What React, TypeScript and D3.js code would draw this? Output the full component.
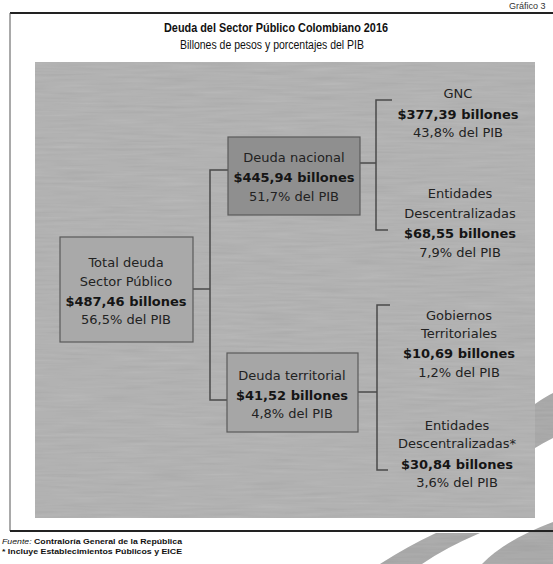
import React from "react";
import * as d3 from "d3";

const titleText = "Deuda del Sector Público Colombiano 2016";
const subtitleText = "Billones de pesos y porcentajes del PIB";
const chartNumber = "Gráfico 3";
const sourceLabel = "Fuente:";
const sourceText = "Contraloría General de la República";
const noteText = "* Incluye Establecimientos Públicos y EICE";

const nodeIds = ["total", "nacional", "territorial", "gnc", "entNac", "gobTer", "entTer"];
const nodeParents = ["", "total", "total", "nacional", "nacional", "territorial", "territorial"];
const nodeLabels = [
  ["Total deuda", "Sector Público"],
  ["Deuda nacional"],
  ["Deuda territorial"],
  ["GNC"],
  ["Entidades", "Descentralizadas"],
  ["Gobiernos", "Territoriales"],
  ["Entidades", "Descentralizadas*"],
];
const nodeValues = [487.46, 445.94, 41.52, 377.39, 68.55, 10.69, 30.84];
const nodePcts = [56.5, 51.7, 4.8, 43.8, 7.9, 1.2, 3.6];

// layout (not data)
const layout: Record<string, { cx: number; y0: number; box?: [number, number, number, number]; fill?: string; gaps: number[] }> = {
  total: { cx: 126, y0: 267, box: [60, 237, 133, 105], fill: "#a9a9a9", gaps: [19, 20, 18] },
  nacional: { cx: 294, y0: 162, box: [228, 137, 132, 78], fill: "#8f8f8f", gaps: [20, 19] },
  territorial: { cx: 292, y0: 380, box: [227, 353, 131, 79], fill: "#a6a6a6", gaps: [20, 18] },
  gnc: { cx: 458, y0: 98, gaps: [21, 18] },
  entNac: { cx: 460, y0: 198, gaps: [20, 20, 19] },
  gobTer: { cx: 459, y0: 320, gaps: [18, 20, 19] },
  entTer: { cx: 457, y0: 430, gaps: [18, 21, 18] },
};

const fmt = (v: number, d: number) => d3.format(`.${d}f`)(v).replace(".", ",");

const LINE = "#4a4a4a";

export default function App() {
  const font = "'DejaVu Sans', Verdana, sans-serif";
  const nodes = nodeIds.map((id, i) => ({
    id,
    parent: nodeParents[i],
    lines: [
      ...nodeLabels[i].map((t) => ({ t, bold: false })),
      { t: `$${fmt(nodeValues[i], 2)} billones`, bold: true },
      { t: `${fmt(nodePcts[i], 1)}% del PIB`, bold: false },
    ],
  }));

  return (
    <svg width={553} height={564} style={{ position: "absolute", left: 0, top: 0, background: "#fff" }}>
      <defs>
        <filter id="grain" x="0" y="0" width="100%" height="100%">
          <feTurbulence type="fractalNoise" baseFrequency="0.02 0.35" numOctaves={2} seed={4} result="n" />
          <feColorMatrix in="n" type="matrix" values="0 0 0 0 0.5  0 0 0 0 0.5  0 0 0 0 0.5  0 0 0 0.35 0" result="g" />
          <feComposite in="g" in2="SourceGraphic" operator="in" result="gm" />
          <feBlend in="SourceGraphic" in2="gm" mode="multiply" />
        </filter>
      </defs>
      <rect width={553} height={564} fill="#fff" />
      {/* scan watermark bands */}
      <g fill="#b0b0b0" filter="url(#grain)">
        <path d="M 436 533 L 480 533 Q 445 548 422 564 L 380 564 Q 408 546 436 533 Z" />
        <path d="M 553 522 L 553 564 L 482 564 Q 505 540 553 522 Z" />
        <path d="M 535 404 Q 545 397 553 393 L 553 438 Q 545 442 535 448 Z" />
      </g>
      {/* frame */}
      <text x={509} y={9} fontFamily="'Liberation Sans', Arial, sans-serif" fontSize={9} fill="#333">{chartNumber}</text>
      <line x1={10} y1={13} x2={553} y2={13} stroke="#222" strokeWidth={2} />
      <line x1={10} y1={13} x2={10} y2={531} stroke="#555" strokeWidth={1} />
      <line x1={10} y1={531} x2={553} y2={531} stroke="#222" strokeWidth={2} />
      <text x={276} y={32} textAnchor="middle" fontFamily="'Liberation Sans Narrow', 'Liberation Sans', Arial, sans-serif" fontWeight="bold" fontSize={13.5} textLength={224} lengthAdjust="spacingAndGlyphs" fill="#111">{titleText}</text>
      <text x={272} y={49} textAnchor="middle" fontFamily="'Liberation Sans Narrow', 'Liberation Sans', Arial, sans-serif" fontSize={12} textLength={184} lengthAdjust="spacingAndGlyphs" fill="#111">{subtitleText}</text>
      {/* gray panel */}
      <rect x={35} y={62} width={500} height={456} fill="#b9b9b9" filter="url(#grain)" />
      {/* connectors */}
      <g stroke={LINE} strokeWidth={1.5} fill="none">
        <path d="M 193 289 H 210" />
        <path d="M 228 170 H 210 V 400 H 227" />
        <path d="M 360 163 H 376" />
        <path d="M 392 100 H 376 V 230 H 388" />
        <path d="M 358 392 H 377" />
        <path d="M 390 305 H 377 V 470 H 388" />
      </g>
      {nodes.map((n) => {
        const L = layout[n.id];
        let y = L.y0;
        const ys = n.lines.map((_, i) => {
          if (i > 0) y += L.gaps[i - 1];
          return y;
        });
        return (
          <g key={n.id}>
            {L.box && (
              <rect x={L.box[0]} y={L.box[1]} width={L.box[2]} height={L.box[3]} fill={L.fill} stroke="#5a5a5a" strokeWidth={1.2} />
            )}
            {n.lines.map((ln, i) => (
              <text key={i} x={L.cx} y={ys[i]} textAnchor="middle" fontFamily={font} fontSize={13} fontWeight={ln.bold ? "bold" : "normal"} fill={ln.bold ? "#151515" : "#222"}>
                {ln.t}
              </text>
            ))}
          </g>
        );
      })}
      {/* footer */}
      <text x={2} y={544} fontFamily="'Liberation Sans Narrow', 'Liberation Sans', Arial, sans-serif" fontSize={8} fill="#111" textLength={180} lengthAdjust="spacingAndGlyphs">
        <tspan fontStyle="italic">{sourceLabel} </tspan>
        <tspan fontWeight="bold">{sourceText}</tspan>
      </text>
      <text x={2} y={554} fontFamily="'Liberation Sans Narrow', 'Liberation Sans', Arial, sans-serif" fontSize={8} fontWeight="bold" fill="#111" textLength={180} lengthAdjust="spacingAndGlyphs">{noteText}</text>
    </svg>
  );
}
